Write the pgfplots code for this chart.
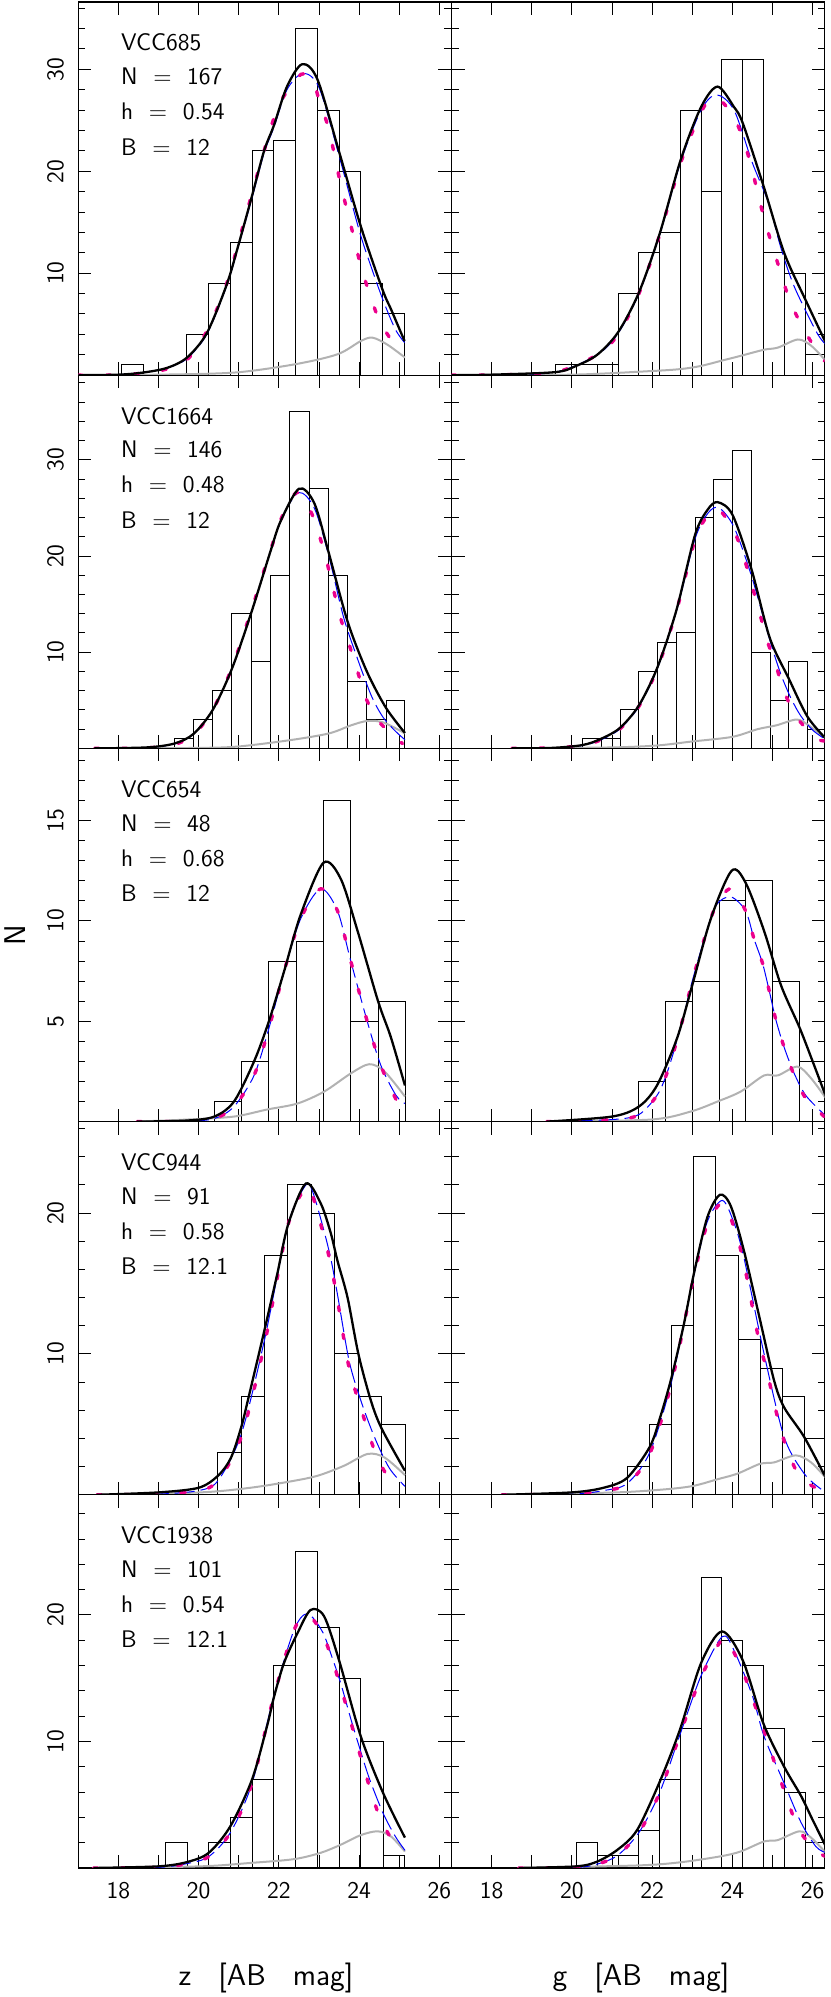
\documentclass[border=0pt]{standalone}
\usepackage{fontspec}
\renewcommand{\familydefault}{\sfdefault}
\usepackage{pgfplots}
\pgfplotsset{compat=1.18}

\pgfplotsset{
  panel/.style={
    scale only axis, width=186.6pt, height=186.6pt, anchor=south west,
    xmin=17, xmax=26.3, ymin=0,
    xtick={18,...,26}, xticklabels={},
    tick align=inside, xtick pos=both, ytick pos=both,
    major tick length=6.5pt, minor tick length=3.5pt,
    axis line style={line width=0.6pt},
    tick style={line width=0.5pt, black},
    tick label style={font=\fontsize{12}{12}\selectfont},
    /pgf/number format/assume math mode=true,
    yticklabel style={rotate=90, anchor=south, inner sep=0pt},
    yticklabel shift=7pt,
    xticklabel style={anchor=north, inner sep=0pt},
    xticklabel shift=7pt,
  },
  colR/.style={yticklabels={}},
  botrow/.style={xticklabels={18,,20,,22,,24,,26}},
  rowA/.style={ymax=36.6, ytick={10,20,30}, minor ytick={2,4,...,36}},
  rowB/.style={ymax=38.8, ytick={10,20,30}, minor ytick={2,4,...,38}},
  rowC/.style={ymax=18.6, ytick={5,10,15}, minor ytick={1,...,18}},
  rowD/.style={ymax=26.5, ytick={10,20}, minor ytick={2,4,...,26}},
  rowE/.style={ymax=29.5, ytick={10,20}, minor ytick={2,4,...,28}},
  hist/.style={ybar interval, draw=black, line width=0.5pt, fill=none},
  kde/.style={black, line width=1.15pt, smooth},
  gau/.style={blue, line width=0.5pt, dash pattern=on 10pt off 3pt, smooth},
  mag/.style={magenta, line width=1.7pt, line cap=round, dash pattern=on 2.3pt off 11.7pt, smooth},
  bkg/.style={black!30, line width=1pt, smooth},
}
\newcommand{\info}[4]{%
  \node[anchor=west, inner sep=0pt, font=\fontsize{12}{12}\selectfont] at (axis description cs:0.114,0.891) {#1};
  \node[anchor=west, inner sep=0pt, font=\fontsize{12}{12}\selectfont] at (axis description cs:0.114,0.800) {N\hspace{0.65em}=\hspace{0.65em}#2};
  \node[anchor=west, inner sep=0pt, font=\fontsize{12}{12}\selectfont] at (axis description cs:0.114,0.706) {h\hspace{0.65em}=\hspace{0.65em}#3};
  \node[anchor=west, inner sep=0pt, font=\fontsize{12}{12}\selectfont] at (axis description cs:0.114,0.612) {B\hspace{0.65em}=\hspace{0.65em}#4};
}

\begin{document}
\begin{tikzpicture}
\path[use as bounding box] (0,0) rectangle (415pt,998.5pt);

% ---------------- row 1 : VCC685
\begin{axis}[panel, rowA, at={(39.15pt,810.9pt)}]
\addplot[hist] coordinates {(18.083,1) (18.625,0) (19.167,0) (19.708,4) (20.25,9) (20.792,13) (21.333,22) (21.875,23) (22.417,34) (22.958,26) (23.5,20) (24.042,9) (24.583,6) (25.125,0)};
\addplot[bkg] coordinates {(17,0) (19,0.05) (20.9,0.26) (22.4,1.07) (23.46,2.05) (24.04,3.35) (24.33,3.68) (24.7,3.0) (25.14,1.73)};
\addplot[gau] coordinates {(17,0) (18,0.05) (18.6,0.25) (19.2,0.7) (19.7,1.6) (20.2,4.0) (20.7,8.8) (21.0,12.8) (21.33,17.4) (21.63,21.8) (21.875,24.3) (22.2,28.0) (22.6,29.6) (23.0,28.2) (23.5,21.5) (24.0,14.2) (24.3,10.6) (24.6,7.3) (24.9,4.5) (25.13,3.2)};
\addplot[mag] coordinates {(17,0) (18,0.03) (19,0.4) (19.7,1.5) (20.2,4.3) (20.7,9.0) (21.2,16.0) (21.6,21.6) (22.0,26.5) (22.55,29.5) (22.85,28.8) (23.0,27.0) (23.25,24.0) (23.54,18.7) (23.875,13.4) (24.04,10.7) (24.25,8.1) (24.5,5.4) (24.875,3.0) (25.1,2.1)};
\addplot[kde] coordinates {(17,0) (18,0.05) (18.6,0.25) (19.2,0.7) (19.7,1.7) (20.2,4.1) (20.7,8.9) (21.0,12.9) (21.33,17.6) (21.63,22.0) (21.875,24.5) (22.2,28.3) (22.58,30.5) (22.96,29.0) (23.5,21.9) (24.04,14.6) (24.58,8.4) (24.8,6.4) (25.13,3.35)};
\info{VCC685}{167}{0.54}{12}
\end{axis}
\begin{axis}[panel, rowA, colR, at={(225.75pt,810.9pt)}]
\addplot[hist] coordinates {(19.59,1) (20.11,1) (20.63,1) (21.15,8) (21.67,12) (22.19,14) (22.71,26) (23.22,18) (23.74,31) (24.26,31) (24.78,12) (25.30,10) (25.82,2) (26.34,0)};
\addplot[bkg] coordinates {(17,0) (20,0.05) (21.96,0.4) (22.71,0.6) (23.21,0.9) (23.71,1.4) (24.21,1.9) (24.79,2.5) (25.13,2.7) (25.63,3.5) (25.96,2.9) (26.33,1.4)};
\addplot[gau] coordinates {(17,0) (18,0.03) (19.59,0.3) (20.63,2.0) (21.15,4.1) (21.67,8.0) (22.19,13.8) (22.71,20.9) (23.22,26.0) (23.6,27.5) (24.04,26.0) (24.5,20.8) (24.92,16.7) (25.2,12.6) (25.54,8.7) (26.1,4.2) (26.33,3.0)};
\addplot[mag] coordinates {(17,0) (18,0.03) (19.59,0.3) (20.63,2.0) (21.15,4.0) (21.67,8.0) (22.19,13.8) (22.71,20.8) (23.22,25.8) (23.55,27.3) (23.96,25.8) (24.25,23.4) (24.46,20.6) (24.625,18.0) (24.79,15.4) (25.0,12.6) (25.21,10.0) (25.42,7.4) (25.71,5.0) (26.08,2.5) (26.29,1.4)};
\addplot[kde] coordinates {(17,0) (18,0.05) (19.59,0.3) (20.1,0.9) (20.63,2.0) (21.15,4.2) (21.67,8.1) (22.19,13.9) (22.71,21.1) (23.22,26.3) (23.63,28.3) (24.04,26.3) (24.26,24.7) (24.78,18.5) (25.29,12.0) (25.82,7.4) (26.36,2.9)};
\end{axis}

% ---------------- row 2 : VCC1664
\begin{axis}[panel, rowB, at={(39.15pt,624.3pt)}]
\addplot[hist] coordinates {(19.39,1) (19.87,3) (20.35,6) (20.83,14) (21.31,9) (21.79,18) (22.27,35) (22.75,27) (23.23,18) (23.71,7) (24.19,3) (24.67,5) (25.14,0)};
\addplot[bkg] coordinates {(17.4,0) (20,0.05) (21.0,0.2) (22.3,0.87) (23.25,1.56) (23.8,2.4) (24.2,2.85) (24.6,2.7) (25.14,1.56)};
\addplot[gau] coordinates {(17.4,0) (18.7,0.1) (19.39,0.45) (19.87,1.5) (20.35,4.0) (20.83,8.3) (21.31,14.1) (21.79,20.5) (22.1,24.2) (22.5,26.6) (22.88,25.0) (23.23,20.2) (23.6,13.8) (23.9,10.0) (24.3,5.5) (24.6,3.2) (24.9,1.8) (25.14,0.9)};
\addplot[mag] coordinates {(17.4,0) (18.7,0.05) (19.39,0.4) (19.87,1.4) (20.35,4.0) (20.83,8.4) (21.31,14.3) (21.79,20.6) (22.1,24.3) (22.45,26.6) (22.79,24.65) (23.0,22.2) (23.17,19.8) (23.33,17.0) (23.54,13.5) (23.75,10.8) (23.96,8.0) (24.17,5.2) (24.46,2.95) (24.79,1.56) (25.08,0.5)};
\addplot[kde] coordinates {(17.4,0) (18.7,0.1) (19.39,0.5) (19.87,1.5) (20.35,4.0) (20.83,8.3) (21.31,14.1) (21.79,20.5) (22.04,23.6) (22.5,27.0) (22.88,25.5) (23.23,20.5) (23.71,13.2) (24.19,8.0) (24.67,4.2) (25.14,1.6)};
\info{VCC1664}{146}{0.48}{12}
\end{axis}
\begin{axis}[panel, rowB, colR, at={(225.75pt,624.3pt)}]
\addplot[hist] coordinates {(20.27,1) (20.74,1) (21.20,4) (21.67,8) (22.14,11) (22.60,12) (23.07,24) (23.54,28) (24.00,31) (24.47,10) (24.94,5) (25.40,9) (25.87,2) (26.34,0)};
\addplot[bkg] coordinates {(18.5,0) (21.0,0.1) (22.12,0.3) (22.96,0.7) (24.0,1.2) (24.63,2.0) (25.1,2.4) (25.6,3.0) (25.9,2.4) (26.33,1.0)};
\addplot[gau] coordinates {(18.5,0) (19.5,0.05) (20.27,0.3) (20.73,0.9) (21.19,2.0) (21.66,4.3) (22.12,8.2) (22.6,14.2) (23.07,21.8) (23.4,24.5) (23.67,25.0) (24.04,23.0) (24.47,18.0) (24.93,11.3) (25.2,7.8) (25.45,5.3) (25.7,3.4) (26.0,1.9) (26.33,0.9)};
\addplot[mag] coordinates {(18.5,0) (19.5,0.05) (20.27,0.3) (20.73,0.9) (21.19,2.0) (21.66,4.3) (22.12,8.2) (22.6,14.2) (23.07,21.7) (23.4,24.3) (23.67,24.8) (24.04,22.6) (24.29,19.8) (24.67,14.2) (24.875,11.1) (25.08,8.7) (25.29,5.9) (25.625,3.1) (26.125,1.0) (26.33,0.8)};
\addplot[kde] coordinates {(18.5,0) (19.5,0.05) (20.27,0.35) (20.73,1.0) (21.19,2.1) (21.66,4.4) (22.12,8.3) (22.6,14.3) (23.07,22.2) (23.38,24.8) (23.63,25.6) (24.0,24.3) (24.47,18.7) (24.93,11.5) (25.4,7.3) (25.87,3.3) (26.33,1.0)};
\end{axis}

% ---------------- row 3 : VCC654
\begin{axis}[panel, rowC, at={(39.15pt,437.7pt)}]
\addplot[hist] coordinates {(20.39,1) (21.07,3) (21.75,8) (22.43,9) (23.11,16) (23.79,5) (24.47,6) (25.15,0)};
\addplot[bkg] coordinates {(18.46,0) (19.7,0.1) (20.88,0.25) (21.7,0.6) (22.46,0.9) (23.13,1.5) (23.79,2.4) (24.25,2.86) (24.63,2.5) (25.14,1.25)};
\addplot[gau] coordinates {(18.46,0) (19.7,0.02) (20.39,0.15) (20.88,0.75) (21.38,2.3) (21.75,4.65) (22.13,7.5) (22.54,10.1) (23.04,11.6) (23.46,10.5) (23.79,8.0) (24.2,5.0) (24.54,2.8) (24.92,1.3) (25.14,0.9)};
\addplot[mag] coordinates {(18.46,0) (19.7,0.02) (20.39,0.15) (20.88,0.75) (21.38,2.3) (21.75,4.65) (22.13,7.5) (22.54,10.1) (23.04,11.6) (23.46,10.5) (23.79,8.0) (24.2,5.0) (24.54,2.8) (24.92,1.1) (25.14,0.6)};
\addplot[kde] coordinates {(18.46,0) (19.7,0.05) (20.39,0.25) (20.88,1.0) (21.38,3.0) (21.75,5.0) (22.13,7.5) (22.54,10.3) (23.11,12.9) (23.54,12.1) (23.96,9.5) (24.47,6.0) (24.79,4.2) (25.14,1.8)};
\info{VCC654}{48}{0.68}{12}
\end{axis}
\begin{axis}[panel, rowC, colR, at={(225.75pt,437.7pt)}]
\addplot[hist] coordinates {(21.67,2) (22.33,6) (23.0,7) (23.67,11) (24.33,12) (25.0,7) (25.67,3) (26.33,0)};
\addplot[bkg] coordinates {(19.37,0) (21.96,0.1) (22.96,0.5) (23.63,1.0) (24.21,1.5) (24.79,2.3) (25.13,2.3) (25.62,2.74) (25.96,2.16) (26.33,1.16)};
\addplot[gau] coordinates {(19.37,0) (21.0,0.1) (21.67,0.35) (22.12,1.3) (22.33,2.2) (22.54,3.5) (22.79,5.3) (23.0,7.0) (23.33,9.3) (23.6,10.8) (23.96,11.2) (24.33,10.5) (24.54,9.1) (24.75,7.9) (24.92,6.5) (25.08,5.1) (25.29,3.7) (25.54,2.4) (25.83,1.3) (26.29,0.35)};
\addplot[mag] coordinates {(19.37,0) (21.0,0.1) (21.67,0.33) (22.12,1.3) (22.33,2.2) (22.54,3.5) (22.79,5.3) (23.0,7.0) (23.33,9.3) (23.6,10.8) (23.96,11.6) (24.33,10.5) (24.54,9.1) (24.75,7.9) (24.92,6.5) (25.08,5.1) (25.29,3.7) (25.54,2.3) (25.83,1.16) (26.29,0.25)};
\addplot[kde] coordinates {(19.37,0) (21.0,0.25) (21.67,0.75) (22.12,1.8) (22.62,4.15) (23.0,6.8) (23.46,10.1) (23.98,12.5) (24.33,11.9) (24.79,9.5) (25.21,6.8) (25.67,4.7) (26.0,3.0) (26.33,1.25)};
\end{axis}

% ---------------- row 4 : VCC944
\begin{axis}[panel, rowD, at={(39.15pt,251.1pt)}]
\addplot[hist] coordinates {(20.475,3) (21.058,7) (21.642,17) (22.225,22) (22.808,20) (23.392,10) (23.975,7) (24.558,5) (25.142,0)};
\addplot[bkg] coordinates {(17.46,0) (20.04,0.17) (21.29,0.5) (22.29,0.95) (22.96,1.35) (23.62,2.06) (24.21,2.9) (24.63,2.65) (25.14,1.4)};
\addplot[gau] coordinates {(17.46,0) (19,0.05) (20,0.3) (20.48,1.0) (21.06,4.3) (21.64,11.0) (22.23,19.2) (22.67,22.0) (22.83,21.6) (23.08,19.2) (23.29,16.8) (23.46,14.2) (23.75,9.5) (24.04,6.7) (24.38,4.1) (24.75,1.9) (25.14,0.6)};
\addplot[mag] coordinates {(17.46,0) (19,0.05) (20,0.3) (20.48,1.0) (21.06,4.1) (21.64,10.7) (22.23,19.2) (22.67,21.8) (22.83,21.3) (23.08,18.8) (23.29,16.4) (23.46,13.8) (23.75,9.0) (24.08,5.8) (24.4,3.0) (24.67,1.5) (25.0,0.6)};
\addplot[kde] coordinates {(17.46,0) (19.0,0.17) (20.0,0.5) (20.48,1.35) (20.8,2.6) (21.06,4.8) (21.25,7.0) (21.64,11.7) (21.96,15.7) (22.23,19.2) (22.67,22.1) (23.04,20.7) (23.29,18.6) (23.46,16.6) (23.71,14.0) (23.98,10.0) (24.29,6.7) (24.56,4.7) (25.14,1.7)};
\info{VCC944}{91}{0.58}{12.1}
\end{axis}
\begin{axis}[panel, rowD, colR, at={(225.75pt,251.1pt)}]
\addplot[hist] coordinates {(21.375,2) (21.93,5) (22.48,12) (23.04,24) (23.59,17) (24.14,11) (24.69,9) (25.24,7) (25.79,4) (26.34,0)};
\addplot[bkg] coordinates {(18.25,0) (21.1,0.17) (22.375,0.4) (23.04,0.64) (23.625,1.1) (24.125,1.5) (24.69,2.2) (25.04,2.3) (25.58,2.8) (25.96,2.3) (26.33,1.2)};
\addplot[gau] coordinates {(18.25,0) (20,0.05) (20.79,0.3) (21.375,0.8) (21.94,3.0) (22.48,8.0) (23.04,15.6) (23.375,19.4) (23.75,20.9) (24.04,19.3) (24.29,16.8) (24.79,10.0) (25.29,4.1) (25.79,1.5) (26.21,0.4)};
\addplot[mag] coordinates {(18.25,0) (20,0.05) (20.79,0.3) (21.375,0.75) (21.94,2.9) (22.48,7.9) (23.04,15.5) (23.375,19.2) (23.75,20.7) (24.04,19.0) (24.29,16.4) (24.63,11.4) (24.875,8.6) (25.125,5.5) (25.375,3.1) (25.71,1.2) (26.21,0.3)};
\addplot[kde] coordinates {(18.25,0) (20.0,0.17) (20.79,0.5) (21.375,1.2) (21.94,3.4) (22.2,5.5) (22.48,8.3) (22.79,12.1) (23.04,15.7) (23.375,19.7) (23.69,21.3) (23.96,20.5) (24.29,17.3) (24.69,12.4) (25.04,8.1) (25.29,6.2) (25.79,4.1) (26.33,1.2)};
\end{axis}

% ---------------- row 5 : VCC1938
\begin{axis}[panel, rowE, botrow, at={(39.15pt,64.5pt)}]
\addplot[hist] coordinates {(19.17,2) (19.71,0) (20.25,2) (20.79,4) (21.33,7) (21.875,16) (22.42,25) (22.96,19) (23.5,15) (24.04,10) (24.6,1) (25.14,0)};
\addplot[bkg] coordinates {(17.375,0) (20.04,0.13) (21.29,0.4) (22.375,0.7) (23.04,1.2) (23.54,1.84) (24.04,2.6) (24.46,2.9) (24.79,2.5) (25.14,1.3)};
\addplot[gau] coordinates {(17.375,0) (19.0,0.05) (19.71,0.35) (20.25,0.9) (20.79,2.8) (21.33,6.7) (21.875,13.6) (22.375,18.8) (22.71,20.1) (23.08,18.7) (23.33,16.6) (23.54,14.6) (23.79,11.8) (24.0,9.6) (24.25,7.1) (24.6,4.3) (24.9,2.5) (25.14,1.4)};
\addplot[mag] coordinates {(17.375,0) (19.0,0.05) (19.71,0.35) (20.25,0.9) (20.79,2.8) (21.33,6.7) (21.875,13.6) (22.375,18.8) (22.71,20.0) (23.08,18.55) (23.33,16.4) (23.54,14.3) (23.75,12.0) (24.125,7.8) (24.33,5.7) (24.54,3.8) (24.92,1.7) (25.08,1.3)};
\addplot[kde] coordinates {(17.375,0) (19.0,0.13) (19.71,0.47) (20.25,1.2) (20.79,3.3) (21.33,7.0) (21.71,11.3) (21.875,13.5) (22.125,16.2) (22.46,18.55) (22.79,20.4) (23.125,19.9) (23.5,16.4) (24.04,10.4) (24.6,5.9) (25.14,2.4)};
\info{VCC1938}{101}{0.54}{12.1}
\end{axis}
\begin{axis}[panel, rowE, colR, botrow, at={(225.75pt,64.5pt)}]
\addplot[hist] coordinates {(20.11,2) (20.63,1) (21.15,1) (21.67,3) (22.19,7) (22.70,11) (23.22,23) (23.74,18) (24.26,16) (24.78,11) (25.30,6) (25.82,2) (26.34,0)};
\addplot[bkg] coordinates {(18.67,0) (21.625,0.2) (22.7,0.45) (23.7,0.92) (24.2,1.3) (24.79,2.1) (25.125,2.2) (25.67,2.9) (25.96,2.4) (26.33,1.2)};
\addplot[gau] coordinates {(18.67,0) (20.11,0.05) (20.625,0.3) (21.14,1.0) (21.67,2.8) (22.18,5.9) (22.7,10.6) (23.22,15.2) (23.75,18.3) (24.04,17.2) (24.5,13.6) (24.79,10.4) (25.29,6.7) (25.71,3.6) (26.08,1.7) (26.33,1.2)};
\addplot[mag] coordinates {(18.67,0) (20.11,0.05) (20.625,0.3) (21.14,1.0) (21.67,2.8) (22.18,5.9) (22.7,10.6) (23.22,15.1) (23.75,18.1) (23.96,17.5) (24.29,15.3) (24.5,13.4) (24.75,11.2) (24.96,9.2) (25.17,7.2) (25.54,3.9) (25.79,2.4) (26.17,1.2) (26.33,0.9)};
\addplot[kde] coordinates {(18.67,0) (20.11,0.13) (20.625,0.5) (21.14,1.45) (21.625,3.0) (22.2,6.9) (22.7,11.0) (23.22,16.2) (23.74,18.7) (24.26,16.4) (24.775,11.4) (25.29,8.0) (25.71,5.7) (26.0,3.8) (26.33,1.7)};
\end{axis}

% axis titles
\node[rotate=90, font=\fontsize{15}{15}\selectfont] at (7.5pt,531pt) {N};
\node[anchor=base, font=\fontsize{15}{15}\selectfont] at (133pt,5.5pt) {z\hspace{0.9em}[AB\hspace{0.9em}mag]};
\node[anchor=base, font=\fontsize{15}{15}\selectfont] at (320.5pt,5.5pt) {g\hspace{0.9em}[AB\hspace{0.9em}mag]};
\end{tikzpicture}
\end{document}
